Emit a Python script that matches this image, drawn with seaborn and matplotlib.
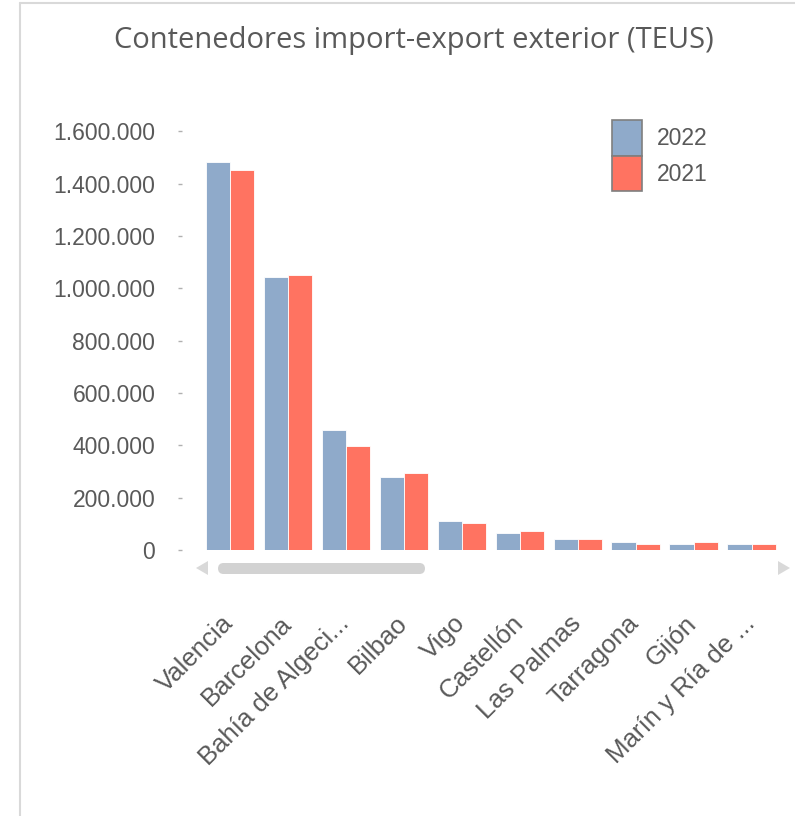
import pandas as pd
import numpy as np
import seaborn as sns
import matplotlib.pyplot as plt
import matplotlib.transforms as mtransforms
from matplotlib.patches import FancyBboxPatch, Polygon
from matplotlib.lines import Line2D
from matplotlib.ticker import FuncFormatter

# puertos y TEUS
puertos = ['Valencia', 'Barcelona', 'Bahía de Algeci...', 'Bilbao', 'Vigo',
           'Castellón', 'Las Palmas', 'Tarragona', 'Gijón', 'Marín y Ría de ...']
teus_2022 = [1482000, 1043000, 458000, 278000, 112000, 64000, 41000, 32000, 24000, 24000]
teus_2021 = [1451000, 1050000, 397000, 293000, 103000, 71000, 41000, 24000, 32000, 24000]
years = ['2022', '2021']
colors = ['#8FAACA', '#FF7361']
yticks = [0, 200000, 400000, 600000, 800000, 1000000, 1200000, 1400000, 1600000]

df = pd.DataFrame({'Puerto': puertos * 2,
                   'Año': [years[0]] * len(puertos) + [years[1]] * len(puertos),
                   'TEUS': teus_2022 + teus_2021})

sns.set_theme(style='white')
plt.rcParams['font.family'] = ['Liberation Sans', 'DejaVu Sans']
gray = '#595959'

fig = plt.figure(figsize=(7.95, 8.16), dpi=100)
ax = fig.add_axes([0.253, 0.326, 0.729, 0.513])

sns.barplot(data=df, x='Puerto', y='TEUS', hue='Año', hue_order=years,
            palette=colors, width=0.84, saturation=1, edgecolor='white',
            linewidth=0.6, ax=ax)

ax.set_xlim(-0.5, len(puertos) - 0.5)
ax.set_ylim(0, 1600000)
ax.set_yticks(yticks)
ax.yaxis.set_major_formatter(FuncFormatter(lambda v, p: f'{int(v):,}'.replace(',', '.')))
ax.set_xlabel('')
ax.set_ylabel('')
for s in ax.spines.values():
    s.set_visible(False)
ax.spines['left'].set_position(('outward', 17))
ax.tick_params(axis='y', left=True, direction='in', length=3, width=1, color='#b0b0b0',
               labelsize=16.5, labelcolor=gray, pad=16)
ax.tick_params(axis='x', bottom=False, labelsize=18.5, labelcolor=gray, pad=38)
shift = mtransforms.ScaledTranslation(-9 / 100, 0, fig.dpi_scale_trans)
for lab in ax.get_xticklabels():
    lab.set_rotation(45)
    lab.set_ha('right')
    lab.set_rotation_mode('anchor')
    lab.set_transform(lab.get_transform() + shift)

leg = ax.legend(loc='upper left', bbox_to_anchor=(0.709, 1.026), frameon=False,
                fontsize=16.5, handlelength=1.3, handleheight=2.0, labelspacing=0.0,
                handletextpad=0.65, borderpad=0, borderaxespad=0, labelcolor=gray)
for h in leg.legend_handles:
    h.set_edgecolor('#7f7f7f')
    h.set_linewidth(1.2)

fig.suptitle('Contenedores import-export exterior (TEUS)', x=0.52, y=0.968,
             fontsize=21, color=gray, family=['Open Sans', 'DejaVu Sans'])

# barra de desplazamiento
fig.patches.append(FancyBboxPatch((218 / 795, 1 - 574 / 816), 207 / 795, 11 / 816,
                                  boxstyle='round,pad=0,rounding_size=0.007',
                                  transform=fig.transFigure, fc='#d2d2d2', ec='none'))
fig.patches.append(Polygon([[196 / 795, 1 - 568 / 816], [208 / 795, 1 - 561 / 816],
                            [208 / 795, 1 - 575 / 816]], closed=True,
                           transform=fig.transFigure, fc='#d9d9d9', ec='none'))
fig.patches.append(Polygon([[790 / 795, 1 - 568 / 816], [778 / 795, 1 - 561 / 816],
                            [778 / 795, 1 - 575 / 816]], closed=True,
                           transform=fig.transFigure, fc='#d9d9d9', ec='none'))

# marco
fig.lines.append(Line2D([20 / 795, 1], [1 - 3 / 816, 1 - 3 / 816],
                        transform=fig.transFigure, color='#d9d9d9', lw=1.5))
fig.lines.append(Line2D([20 / 795, 20 / 795], [0, 1 - 3 / 816],
                        transform=fig.transFigure, color='#d9d9d9', lw=1.5))

fig.savefig('out.png', dpi=100)
